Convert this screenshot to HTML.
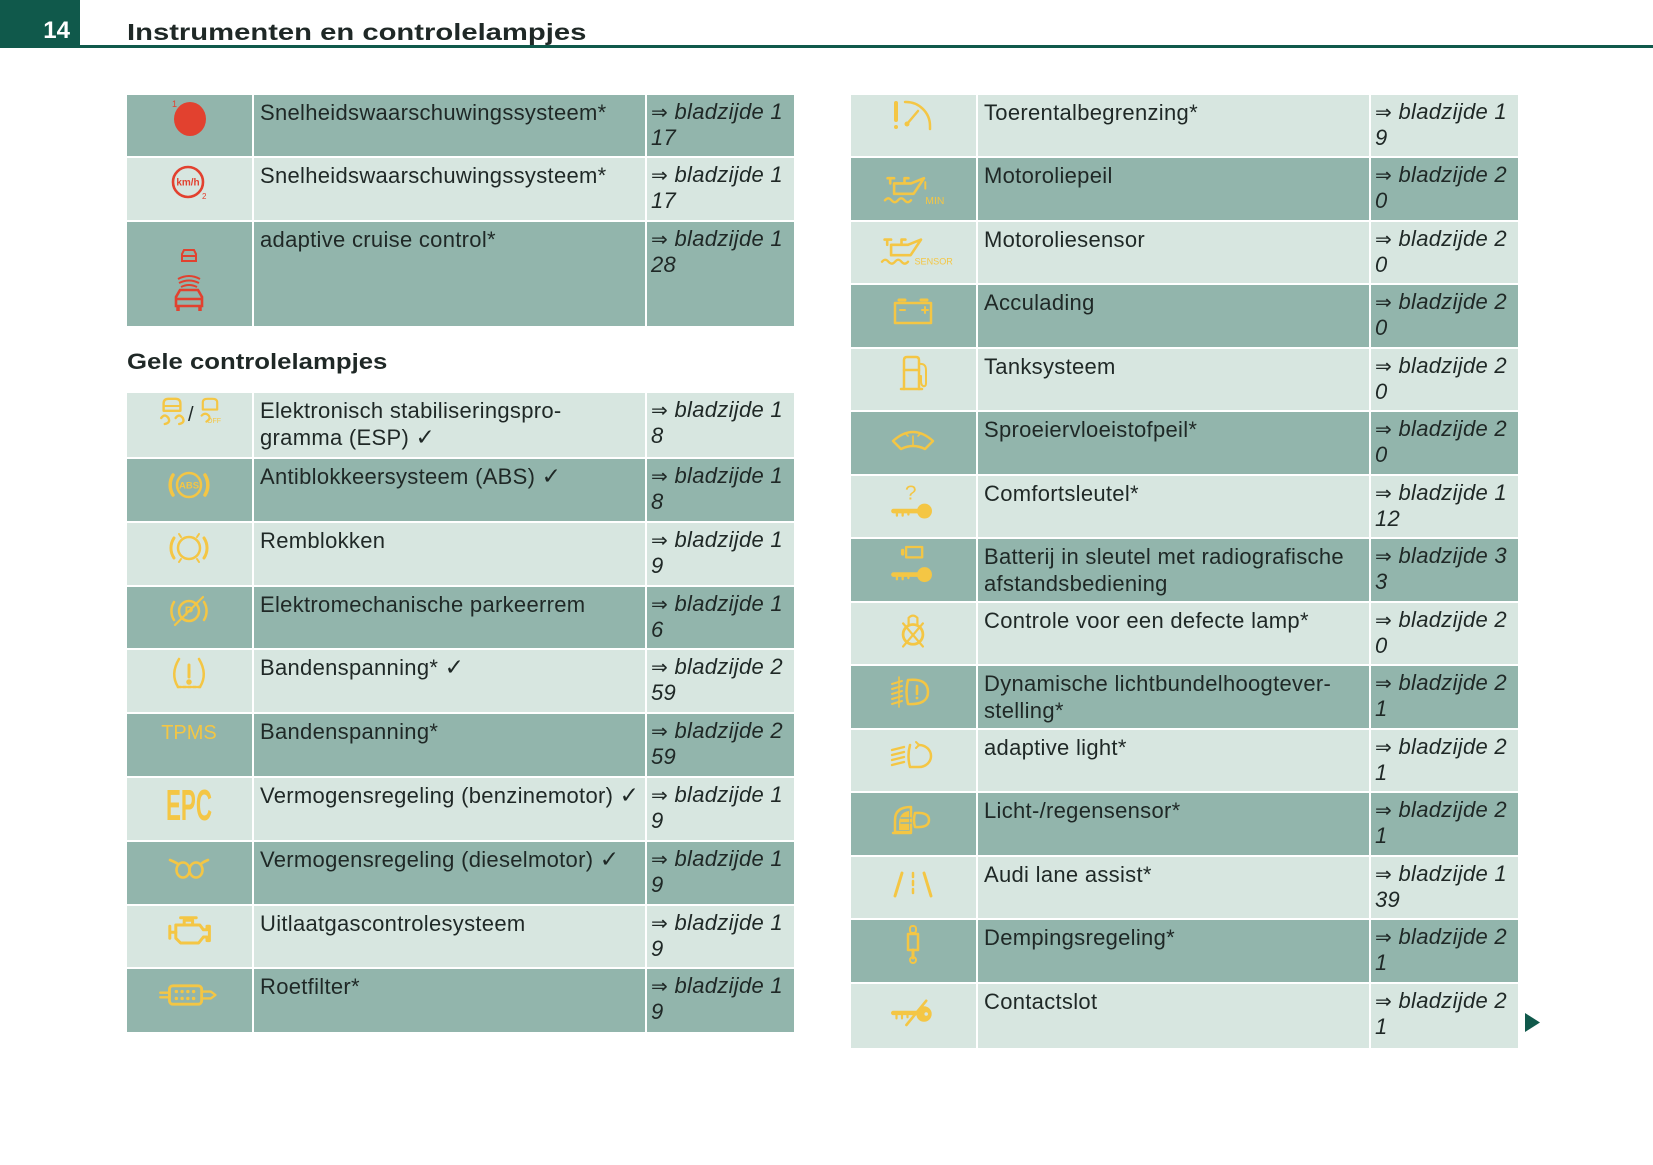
<!DOCTYPE html>
<html><head><meta charset="utf-8">
<style>
html,body{margin:0;padding:0;background:#fff;}
body{width:1653px;height:1165px;position:relative;overflow:hidden;font-family:"Liberation Sans",sans-serif;}
.hb{position:absolute;left:0;top:0;width:80px;height:48px;background:#10594b;}
.hl{position:absolute;left:80px;top:45px;width:1573px;height:3px;background:#10594b;}
.pn{position:absolute;left:0;width:70px;top:18px;line-height:26px;text-align:right;color:#fff;font-weight:bold;font-size:24px;}
.ti{position:absolute;left:127px;top:19px;line-height:26px;font-size:23px;font-weight:bold;color:#1f2826;white-space:nowrap;transform:scaleX(1.27);transform-origin:0 0;}
.h2{position:absolute;left:127px;top:349px;line-height:26px;font-size:22px;font-weight:bold;color:#1f2826;white-space:nowrap;transform:scaleX(1.17);transform-origin:0 0;}
.r{position:absolute;left:0;width:0;}
.c{position:absolute;top:0;height:100%;box-sizing:border-box;padding:3.5px 0 0 6px;font-size:22px;line-height:27px;letter-spacing:0.3px;color:#1f2826;white-space:nowrap;}
.d .c{background:#92b5ac;}
.l .c{background:#d7e6e0;}
.a1{left:127px;width:125px}.a2{left:254px;width:391px}.a3{left:647px;width:147px}
.b1{left:851px;width:125px}.b2{left:978px;width:391px}.b3{left:1371px;width:147px}
.a3,.b3{font-style:italic;line-height:26px;padding-left:4px;padding-top:4px;}
.ar{font-style:normal;font-family:"DejaVu Sans",sans-serif;font-size:20px;}
.ck{font-family:"DejaVu Sans",sans-serif;font-size:23px;font-weight:bold;}
svg.ov{position:absolute;left:0;top:0;}
</style></head><body>
<div class="hb"></div><div class="hl"></div>
<div class="pn">14</div>
<div class="ti">Instrumenten en controlelampjes</div>

<!-- left top table -->
<div class="r d" style="top:95px;height:61px"><div class="c a1"></div><div class="c a2">Snelheidswaarschuwingssysteem*</div><div class="c a3"><span class="ar">⇒</span> bladzijde 1<br>17</div></div>
<div class="r l" style="top:158px;height:62px"><div class="c a1"></div><div class="c a2">Snelheidswaarschuwingssysteem*</div><div class="c a3"><span class="ar">⇒</span> bladzijde 1<br>17</div></div>
<div class="r d" style="top:222px;height:104px"><div class="c a1"></div><div class="c a2">adaptive cruise control*</div><div class="c a3"><span class="ar">⇒</span> bladzijde 1<br>28</div></div>

<div class="h2">Gele controlelampjes</div>

<!-- left second table -->
<div class="r l" style="top:393px;height:64px"><div class="c a1"></div><div class="c a2">Elektronisch stabiliseringspro-<br>gramma (ESP) <span class="ck">✓</span></div><div class="c a3"><span class="ar">⇒</span> bladzijde 1<br>8</div></div>
<div class="r d" style="top:459px;height:62px"><div class="c a1"></div><div class="c a2">Antiblokkeersysteem (ABS) <span class="ck">✓</span></div><div class="c a3"><span class="ar">⇒</span> bladzijde 1<br>8</div></div>
<div class="r l" style="top:523px;height:62px"><div class="c a1"></div><div class="c a2">Remblokken</div><div class="c a3"><span class="ar">⇒</span> bladzijde 1<br>9</div></div>
<div class="r d" style="top:587px;height:61px"><div class="c a1"></div><div class="c a2">Elektromechanische parkeerrem</div><div class="c a3"><span class="ar">⇒</span> bladzijde 1<br>6</div></div>
<div class="r l" style="top:650px;height:62px"><div class="c a1"></div><div class="c a2">Bandenspanning* <span class="ck">✓</span></div><div class="c a3"><span class="ar">⇒</span> bladzijde 2<br>59</div></div>
<div class="r d" style="top:714px;height:62px"><div class="c a1"></div><div class="c a2">Bandenspanning*</div><div class="c a3"><span class="ar">⇒</span> bladzijde 2<br>59</div></div>
<div class="r l" style="top:778px;height:62px"><div class="c a1"></div><div class="c a2">Vermogensregeling (benzinemotor) <span class="ck">✓</span></div><div class="c a3"><span class="ar">⇒</span> bladzijde 1<br>9</div></div>
<div class="r d" style="top:842px;height:62px"><div class="c a1"></div><div class="c a2">Vermogensregeling (dieselmotor) <span class="ck">✓</span></div><div class="c a3"><span class="ar">⇒</span> bladzijde 1<br>9</div></div>
<div class="r l" style="top:906px;height:61px"><div class="c a1"></div><div class="c a2">Uitlaatgascontrolesysteem</div><div class="c a3"><span class="ar">⇒</span> bladzijde 1<br>9</div></div>
<div class="r d" style="top:969px;height:63px"><div class="c a1"></div><div class="c a2">Roetfilter*</div><div class="c a3"><span class="ar">⇒</span> bladzijde 1<br>9</div></div>

<!-- right table -->
<div class="r l" style="top:95px;height:61px"><div class="c b1"></div><div class="c b2">Toerentalbegrenzing*</div><div class="c b3"><span class="ar">⇒</span> bladzijde 1<br>9</div></div>
<div class="r d" style="top:158px;height:62px"><div class="c b1"></div><div class="c b2">Motoroliepeil</div><div class="c b3"><span class="ar">⇒</span> bladzijde 2<br>0</div></div>
<div class="r l" style="top:222px;height:61px"><div class="c b1"></div><div class="c b2">Motoroliesensor</div><div class="c b3"><span class="ar">⇒</span> bladzijde 2<br>0</div></div>
<div class="r d" style="top:285px;height:62px"><div class="c b1"></div><div class="c b2">Acculading</div><div class="c b3"><span class="ar">⇒</span> bladzijde 2<br>0</div></div>
<div class="r l" style="top:349px;height:61px"><div class="c b1"></div><div class="c b2">Tanksysteem</div><div class="c b3"><span class="ar">⇒</span> bladzijde 2<br>0</div></div>
<div class="r d" style="top:412px;height:62px"><div class="c b1"></div><div class="c b2">Sproeiervloeistofpeil*</div><div class="c b3"><span class="ar">⇒</span> bladzijde 2<br>0</div></div>
<div class="r l" style="top:476px;height:61px"><div class="c b1"></div><div class="c b2">Comfortsleutel*</div><div class="c b3"><span class="ar">⇒</span> bladzijde 1<br>12</div></div>
<div class="r d" style="top:539px;height:62px"><div class="c b1"></div><div class="c b2">Batterij in sleutel met radiografische<br>afstandsbediening</div><div class="c b3"><span class="ar">⇒</span> bladzijde 3<br>3</div></div>
<div class="r l" style="top:603px;height:61px"><div class="c b1"></div><div class="c b2">Controle voor een defecte lamp*</div><div class="c b3"><span class="ar">⇒</span> bladzijde 2<br>0</div></div>
<div class="r d" style="top:666px;height:62px"><div class="c b1"></div><div class="c b2">Dynamische lichtbundelhoogtever-<br>stelling*</div><div class="c b3"><span class="ar">⇒</span> bladzijde 2<br>1</div></div>
<div class="r l" style="top:730px;height:61px"><div class="c b1"></div><div class="c b2">adaptive light*</div><div class="c b3"><span class="ar">⇒</span> bladzijde 2<br>1</div></div>
<div class="r d" style="top:793px;height:62px"><div class="c b1"></div><div class="c b2">Licht-/regensensor*</div><div class="c b3"><span class="ar">⇒</span> bladzijde 2<br>1</div></div>
<div class="r l" style="top:857px;height:61px"><div class="c b1"></div><div class="c b2">Audi lane assist*</div><div class="c b3"><span class="ar">⇒</span> bladzijde 1<br>39</div></div>
<div class="r d" style="top:920px;height:62px"><div class="c b1"></div><div class="c b2">Dempingsregeling*</div><div class="c b3"><span class="ar">⇒</span> bladzijde 2<br>1</div></div>
<div class="r l" style="top:984px;height:64px"><div class="c b1"></div><div class="c b2">Contactslot</div><div class="c b3"><span class="ar">⇒</span> bladzijde 2<br>1</div></div>

<svg class="ov" width="1653" height="1165" viewBox="0 0 1653 1165">
 <!-- continue arrow -->
 <path d="M1525 1013 L1540 1022.5 L1525 1032 Z" fill="#10594b"/>

 <!-- red icons -->
 <g transform="translate(190,119)">
  <ellipse rx="16" ry="17" fill="#e2412f"/>
  <text x="-18" y="-12" font-size="9" fill="#e2412f" font-family="Liberation Sans">1</text>
 </g>
 <g transform="translate(188,182)">
  <circle r="15" fill="none" stroke="#e2412f" stroke-width="2.6"/>
  <text x="0" y="3.5" font-size="10" font-weight="bold" fill="#e2412f" text-anchor="middle" font-family="Liberation Sans">km/h</text>
  <text x="14" y="17" font-size="8" fill="#e2412f" font-family="Liberation Sans">2</text>
 </g>
 <g transform="translate(189,0)" fill="none" stroke="#e2412f" stroke-width="2">
  <path d="M-7 261 V254 L-5 250 H5 L7 254 V261 Z"/>
  <path d="M-6 256 H6" />
  <path d="M-10 283 Q0 278 10 283"/>
  <path d="M-8 287 Q0 283 8 287"/>
  <path d="M-11 279 Q0 273 11 279"/>
  <path d="M-13 306 V297 L-9 290 H9 L13 297 V306 Z" stroke-width="2.6"/>
  <path d="M-13 299 H13" stroke-width="2.4"/>
  <path d="M-11 306 V311 M11 306 V311" stroke-width="3.5"/>
 </g>

 <g fill="none" stroke="#f4c644" stroke-width="2.5" stroke-linecap="round" stroke-linejoin="round">
  <!-- ESP -->
  <g transform="translate(172,412) scale(1.2)">
   <path d="M-7 -1 V-7 Q-7 -11 -3 -11 H3 Q7 -11 7 -7 V-1 Z" stroke-width="2"/>
   <path d="M-7 -5 H7" stroke-width="1.6"/>
   <path d="M-9 5 Q-6 1 -3 5 Q-1 9 -6 10" stroke-width="2"/>
   <path d="M3 5 Q6 1 9 5 Q11 9 6 10" stroke-width="2"/>
  </g>
  <g transform="translate(210,412) scale(1.2)">
   <path d="M-6 -2 V-8 Q-6 -11 -2 -11 H2 Q6 -11 6 -8 V-2 Z" stroke-width="1.8"/>
   <path d="M-7 3 Q-4 0 -1 3 Q1 6 -3 8" stroke-width="1.8"/>
  </g>
  <text x="207" y="423" font-size="7" fill="#f4c644" stroke="none" font-family="Liberation Sans">OFF</text>
  <!-- ABS -->
  <g transform="translate(189,485)">
   <circle r="12"/>
   <path d="M-16 -10 A19 19 0 0 0 -16 10" stroke-width="3.5"/>
   <path d="M16 -10 A19 19 0 0 1 16 10" stroke-width="3.5"/>
   <text x="0" y="3.5" font-size="9.5" font-weight="bold" fill="#f4c644" stroke="none" text-anchor="middle" font-family="Liberation Sans">ABS</text>
  </g>
  <!-- Remblokken -->
  <g transform="translate(189,548)">
   <circle r="11"/>
   <path d="M-15 -10 A18 18 0 0 0 -15 10" stroke-width="3"/>
   <path d="M15 -10 A18 18 0 0 1 15 10" stroke-width="3"/>
   <path d="M-10 -14 L-8 -11 M10 -14 L8 -11 M-10 14 L-8 11 M10 14 L8 11" stroke-width="2"/>
  </g>
  <!-- Parkeerrem -->
  <g transform="translate(189,611)">
   <circle r="10"/>
   <path d="M-15 -9 A17 17 0 0 0 -15 9" stroke-width="2.5"/>
   <path d="M15 -9 A17 17 0 0 1 15 9" stroke-width="2.5"/>
   <path d="M-14 14 L14 -14" stroke-width="2.2"/>
   <text x="0" y="4.5" font-size="13" font-weight="bold" fill="#f4c644" stroke="none" text-anchor="middle" font-family="Liberation Sans">P</text>
  </g>
  <!-- Banden -->
  <g transform="translate(189,674)">
   <path d="M-10 -15 Q-19 0 -11 13 M10 -15 Q19 0 11 13"/>
   <path d="M-11 13 H11" stroke-dasharray="3 2"/>
   <path d="M0 -9 V3" stroke-width="3"/>
   <circle cx="0" cy="8" r="1.5" fill="#f4c644"/>
  </g>
  <!-- Diesel -->
  <g transform="translate(189,867)">
   <ellipse cx="-6" cy="3" rx="6.5" ry="7.5" stroke-width="2.6"/>
   <ellipse cx="7" cy="3" rx="6.5" ry="7.5" stroke-width="2.6"/>
   <path d="M-19 -7 Q-14 -5 -11 -3 M19 -7 Q14 -5 12 -3" stroke-width="2.6"/>
  </g>
  <!-- Engine -->
  <g transform="translate(189,931) scale(1.2)">
   <path d="M-11 -5 H9 L12 -1 H15 V-4 H17 V8 H15 V5 H12 L8 10 H-7 L-11 6 Z"/>
   <path d="M-4 -5 V-9 H3 V-5 M-7 -11 H6"/>
   <path d="M-11 1 H-16 M-16 -4 V6"/>
  </g>
  <!-- Roetfilter -->
  <g transform="translate(189,995) scale(1.15)">
   <rect x="-17" y="-8" width="28" height="16" rx="3"/>
   <path d="M-25 -2 H-17 M-25 2 H-17" stroke-width="2"/>
   <path d="M11 -3 H19 L23 0 L19 3 H11" stroke-width="2"/>
   <g fill="#f4c644" stroke="none">
    <circle cx="-11" cy="-3" r="1.5"/><circle cx="-6" cy="-3" r="1.5"/><circle cx="-1" cy="-3" r="1.5"/><circle cx="4" cy="-3" r="1.5"/>
    <circle cx="-11" cy="3" r="1.5"/><circle cx="-6" cy="3" r="1.5"/><circle cx="-1" cy="3" r="1.5"/><circle cx="4" cy="3" r="1.5"/>
   </g>
  </g>

  <!-- Right table icons -->
  <g transform="translate(913,117)">
   <path d="M-17 -14 V3" stroke-width="4"/>
   <circle cx="-17" cy="10" r="2" fill="#f4c644" stroke="none"/>
   <path d="M-8 -15 A24 24 0 0 1 17 9 V12" stroke-width="2.5"/>
   <path d="M-6 7 L5 -6" stroke-width="2.5"/>
   <circle cx="-6" cy="7" r="2.5" fill="#f4c644" stroke="none"/>
  </g>
  <g transform="translate(911,186) scale(1.3)">
   <path d="M-18 -6 H-13 M-16 -6 V-2 M-13 -2 H0 L10 -6 L2 6 H-13 Z M-5 -2 V-6 H-2" stroke-width="2"/>
   <path d="M11 -3 V2" stroke-width="1.5"/>
   <path d="M-20 11 q2.5 -3 5 0 t5 0 t5 0 t5 0" stroke-width="1.8"/>
   <text x="11" y="14" font-size="8" fill="#f4c644" stroke="none" font-family="Liberation Sans">MIN</text>
  </g>
  <g transform="translate(908,250) scale(1.3)">
   <path d="M-18 -8 H-13 M-16 -8 V-4 M-13 -4 H0 L10 -8 L2 4 H-13 Z M-5 -4 V-8 H-2" stroke-width="2"/>
   <path d="M-20 9 q2.5 -3 5 0 t5 0 t5 0 t5 0" stroke-width="1.8"/>
   <text x="5" y="11" font-size="7" fill="#f4c644" stroke="none" font-family="Liberation Sans">SENSOR</text>
  </g>
  <g transform="translate(913,312)">
   <rect x="-18" y="-9" width="36" height="20"/>
   <path d="M-14 -12 H-8 M8 -12 H14" stroke-width="3"/>
   <path d="M-13 -2 H-8 M9 -2 H15 M12 -5 V1" stroke-width="2"/>
  </g>
  <g transform="translate(913,373)">
   <path d="M-9 16 V-13 Q-9 -16 -6 -16 H3 Q6 -16 6 -13 V16"/>
   <path d="M-12 16 H9"/>
   <path d="M-9 -3 H6"/>
   <path d="M6 -9 Q13 -10 13 -3 V10 Q13 14 10 13 Q8 12 8 8 V3 H6" stroke-width="2"/>
  </g>
  <g transform="translate(913,441)">
   <path d="M-20 0 Q0 -18 20 0 L12 8 Q0 2 -12 8 Z"/>
   <path d="M0 5 V-5 M-5 -5 L-8 -8 M5 -5 L8 -8" stroke-width="1.6"/>
  </g>
  <g transform="translate(913,503) scale(1.15)">
   <text x="-2" y="-3" font-size="18" fill="#f4c644" stroke="none" text-anchor="middle" font-family="Liberation Sans">?</text>
   <circle cx="10" cy="7" r="6.5" fill="#f4c644" stroke="none"/>
   <path d="M-17 7 H6" stroke-width="4"/>
   <path d="M-14 7 V11 M-9 7 V11 M-4 7 V10" stroke-width="2"/>
  </g>
  <g transform="translate(913,570) scale(1.15)">
   <rect x="-6" y="-20" width="14" height="9" stroke-width="2"/>
   <path d="M-9 -17 V-14" stroke-width="3"/>
   <circle cx="10" cy="4" r="6.5" fill="#f4c644" stroke="none"/>
   <path d="M-17 4 H6" stroke-width="4"/>
   <path d="M-14 4 V8 M-9 4 V8 M-4 4 V7" stroke-width="2"/>
  </g>
  <g transform="translate(913,630) scale(1.1)">
   <circle cx="0" cy="4" r="9"/>
   <path d="M-4 -5 V-11 Q0 -15 4 -11 V-5" stroke-width="2"/>
   <path d="M-9 -6 L9 15 M9 -6 L-9 15" stroke-width="2"/>
  </g>
  <g transform="translate(913,692)">
   <path d="M-21 -8 L-11 -11 M-21 -3 L-11 -6 M-21 2 L-11 -1 M-21 7 L-11 4 M-21 12 L-11 9" stroke-width="2"/>
   <path d="M-14 -15 V15" stroke-width="1.6"/>
   <path d="M-5 -12 Q15 -14 15 0 Q15 13 -5 12 Q-8 0 -5 -12 Z"/>
   <path d="M4 -6 V2" stroke-width="2.6"/>
   <circle cx="4" cy="6" r="1.4" fill="#f4c644" stroke="none"/>
  </g>
  <g transform="translate(913,756)">
   <path d="M-21 -6 L-9 -9 M-21 -1 L-9 -4 M-21 4 L-9 1 M-21 9 L-9 6" stroke-width="2.4"/>
   <path d="M-3 -11 Q-6 0 -3 11 H6 A12 11 0 0 0 6 -11" />
   <path d="M3 -14 L6 -11 L3 -8" stroke-width="2"/>
  </g>
  <g transform="translate(913,820)">
   <path d="M-18 12 V0 Q-18 -13 -2 -13 V12 Z" fill="none"/>
   <path d="M-14 10 V2 Q-13 -8 -4 -9 V10 Z" fill="#f4c644" stroke="none"/>
   <path d="M-12 -2 H-2 M-12 3 H-2" stroke="#92b5ac" stroke-width="1.5"/>
   <path d="M2 -7 Q16 -8 16 0 Q16 8 2 7 Q0 0 2 -7 Z"/>
   <path d="M-20 13 H-2" stroke-width="2.4"/>
  </g>
  <g transform="translate(913,884)">
   <path d="M-18 12 L-11 -11 M18 12 L11 -11" stroke-width="3"/>
   <path d="M0 -11 V13" stroke-width="2.5" stroke-dasharray="4 4"/>
  </g>
  <g transform="translate(913,946)">
   <rect x="-3" y="-20" width="6" height="7" rx="2.5" stroke-width="2"/>
   <rect x="-5" y="-12" width="10" height="16" stroke-width="2.5"/>
   <path d="M0 4 V12" stroke-width="3"/>
   <circle cx="0" cy="14" r="3" stroke-width="2"/>
  </g>
  <g transform="translate(913,1014) scale(1.1)">
   <circle cx="10" cy="0" r="7" fill="#f4c644" stroke="none"/>
   <circle cx="12" cy="0" r="1.6" fill="#d7e6e0" stroke="none"/>
   <path d="M-18 -1 H5" stroke-width="4"/>
   <path d="M-15 -1 V4 M-10 -1 V4 M-5 -1 V3" stroke-width="2"/>
   <path d="M-6 10 L12 -12" stroke-width="2.4"/>
  </g>
 </g>
 <!-- ESP slash (dark) -->
 <text x="188" y="421" font-size="20" fill="#1f2826" font-family="Liberation Sans">/</text>
 <!-- TPMS and EPC text icons -->
 <text x="189" y="739" font-size="20" fill="#f4c644" text-anchor="middle" font-family="Liberation Sans">TPMS</text>
 <text x="166" y="820" font-size="44" font-weight="bold" fill="#f4c644" font-family="Liberation Sans" textLength="46" lengthAdjust="spacingAndGlyphs">EPC</text>
</svg>
</body></html>
